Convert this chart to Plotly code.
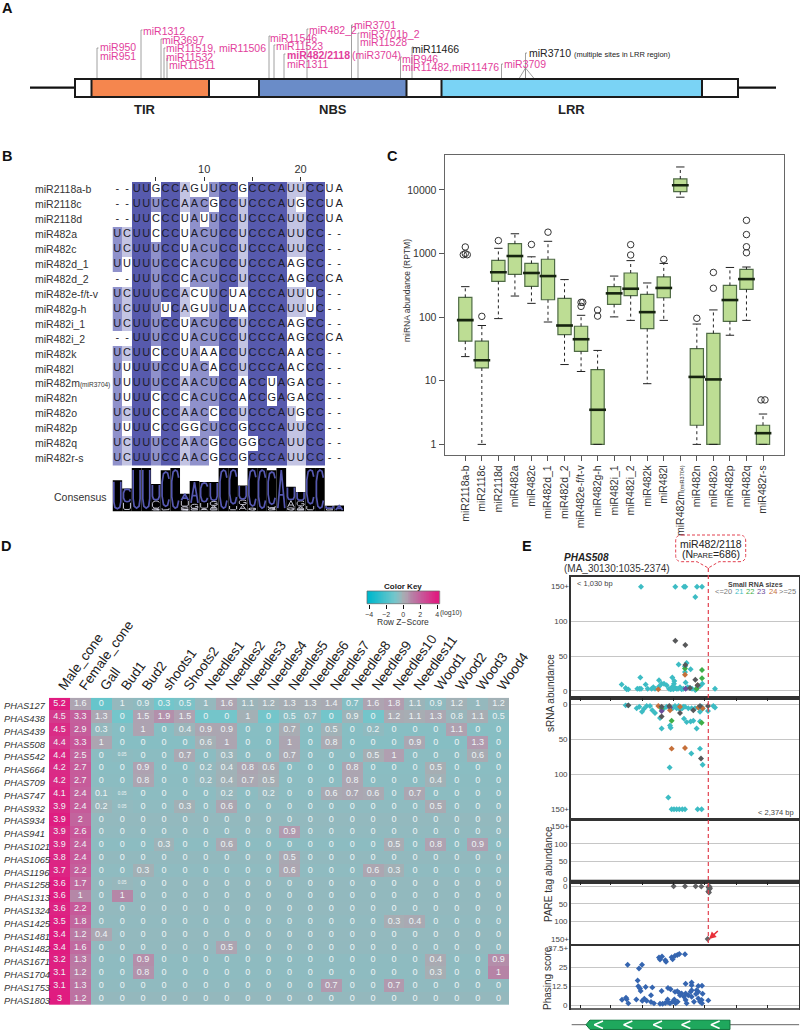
import numpy as np
import plotly.graph_objects as go

W, H = 800, 1030
PINK = "#e23f9c"
FONT = "Liberation Sans, Arial, sans-serif"

# ---------- Panel A data ----------
gene_span = (75, 738)
flank_left = (30, 75)
flank_right = (738, 776)
domain_names = ["TIR", "NBS", "LRR"]
domain_start = [91.5, 259, 441.5]
domain_end = [209, 406.5, 702]
domain_colors = ["#f5864e", "#6a8cc8", "#7ad3f5"]
site_x = [97, 141, 161, 164, 167, 269, 274, 284, 307, 351.5, 358, 400.5, 412, 501.5, 525.5]
site_top = [48, 30, 39, 48, 58, 36, 45, 54, 29, 25, 33, 57, 47, 64, 53]
site_pink_labels = [
    (99.5, 46.7, "miR950"), (99.5, 55.7, "miR951"), (143, 31, "miR1312"), (162, 39.5, "miR3697"),
    (166, 48, "miR11519, miR11506"), (166, 56.5, "miR11532"), (169, 65, "miR11511"),
    (269.5, 37.5, "miR11546"), (276, 46, "miR11523"), (286.5, 64, "miR1311"),
    (309, 30, "miR482_2"), (353.5, 25, "miR3701"), (360, 33.5, "miR3701b_2"),
    (360, 41.5, "miR11528"), (402, 58.7, "miR946"), (402, 67, "miR11482,miR11476"),
    (503.6, 63.7, "miR3709"), (352, 55, "(miR3704)"),
]

# ---------- Panel B data ----------
align_names = ["miR2118a-b", "miR2118c", "miR2118d", "miR482a", "miR482c", "miR482d_1", "miR482d_2",
               "miR482e-f/t-v", "miR482g-h", "miR482i_1", "miR482i_2", "miR482k", "miR482l",
               "miR482m<span style=\"font-size:6.5px\">(miR3704)</span>", "miR482n", "miR482o",
               "miR482p", "miR482q", "miR482r-s"]
align_seqs = ["--UUGCCAGUUCCGCCCAUUCCUA", "--UUUCCAACGCCUCCCAUGCCUA", "--UUCCCUAUUCCUCCCAUUCCUA",
              "UCUUCCCUACUCCUCCCAUUCC--", "UCUUUCCUACUCCUCCCAUUCC--", "UUUUUCCCACUCCUCCCAAGCC--",
              "--UUUCCCACUCCUCCCAAGCCCA", "UCUUUCCACUUCUACCCAUUUC--", "UCUUUUCAGUUCUACCCAUUUC--",
              "UCUUUCCUACUCCUCCCAAGCC--", "--UUUCCUACUCCUCCCAAGCCCA", "UCUUCCCUAAACCUCCCAAACC--",
              "UUUUUCCUACACCUCCCAACCC--", "UUUUUCCAACUCCACCUAGACC--", "UUUUCCCCACUCCACCGAGACC--",
              "UCUUCCCAACCCCUCCCAUGCC--", "UUUUCCCGGCUCCGCCCAUUCC--", "UCUUUCCAACGCCGGCCAUUCC--",
              "UCUUUCCAACGCCGCCCAUUCC--"]
consensus = "UCUUUCCAACUCCUCCCAUUCCUA"
logo_heights = [.72, .53, 1, 1, .63, .95, 1, .41, .7, .68, .68, 1, 1, .6, 1, 1, .95, 1, .57, .45, 1, 1, .13, .14]
tick_cols = [5, 10, 15, 20]
tick_text = ["", "10", "", "20"]

# ---------- Panel C data ----------
box_names = ["miR2118a-b", "miR2118c", "miR2118d", "miR482a", "miR482c", "miR482d_1", "miR482d_2",
             "miR482e-f/t-v", "miR482g-h", "miR482i_1", "miR482i_2", "miR482k", "miR482l",
             "miR482m<span style=\"font-size:5.5px\">(miR3704)</span>", "miR482n", "miR482o",
             "miR482p", "miR482q", "miR482r-s"]
box_q3 = [205, 42, 780, 1430, 700, 815, 198, 72, 15, 302, 495, 228, 430, 14900, 32, 55.5, 316, 565, 2]
box_med = [90, 21, 510, 915, 495, 443, 74, 45, 3.5, 237, 280, 120, 288, 11900, 11.5, 10.5, 186, 397, 1.5]
box_q1 = [42, 15.9, 365, 470, 305, 188, 53, 29, 1, 159, 218, 66, 202, 9400, 2, 1, 86, 273, 1]
box_hi = [302, 74, 1210, 2050, 890, 1560, 390, 107, 30, 443, 775, 345, 700, 23000, 78, 130, 605, 615, 3]
box_lo = [24, 1, 95, 215, 165, 84, 18, 14, 1, 101, 89, 9, 89, 7700, 1, 1, 52, 89, 1]
out_x = [-.12, 0, .12, 0, 1, 2, 4, 5, 7, 7, 7.1, 8, 8, 10, 10, 12, 14, 15, 15, 17, 17, 17, 17, 17.88, 18.12]
out_y = [960, 1270, 960, 1000, 103, 1600, 1390, 2170, 171, 148, 171, 130, 104, 1380, 950, 810, 96, 505, 285,
         3330, 1990, 1280, 1030, 5, 5]

# ---------- Panel D data ----------
tissues = ["Male_cone", "Female_cone", "Gall", "Bud1", "Bud2", "shoots1", "Shoots2", "Needles1", "Needles2",
           "Needles3", "Needles4", "Needles5", "Needles6", "Needles7", "Needles8", "Needles9", "Needles10",
           "Needles11", "Wood1", "Wood2", "Wood3", "Wood4"]
phas = ["PHAS127", "PHAS438", "PHAS439", "PHAS508", "PHAS542", "PHAS664", "PHAS709", "PHAS747", "PHAS932",
        "PHAS934", "PHAS941", "PHAS1021", "PHAS1065", "PHAS1196", "PHAS1258", "PHAS1313", "PHAS1324",
        "PHAS1425", "PHAS1481", "PHAS1482", "PHAS1671", "PHAS1704", "PHAS1753", "PHAS1803"]
heat = [
    [5.2, 1.6, 0, 1, .9, .3, .5, 1, 1.6, 1.1, 1.2, 1.3, 1.3, 1.4, .7, 1.6, 1.8, 1.1, .9, 1.2, 1, 1.2],
    [4.5, 3.3, 1.3, 0, 1.5, 1.9, 1.5, 0, 0, 1, 0, .5, .7, 0, .9, 0, 1.2, 1.1, 1.3, .8, 1.1, .5],
    [4.5, 2.9, .3, 0, 1, 0, .4, .9, .9, 0, 0, .7, 0, .5, 0, .2, 0, 0, 0, 1.1, 0, 0],
    [4.4, 3.3, 1, 0, 0, 0, 0, .6, 1, 0, 0, 1, 0, .8, 0, 0, 0, .9, 0, 0, 1.3, 0],
    [4.4, 2.5, 0, .05, 0, 0, .7, 0, .3, 0, 0, .7, 0, 0, 0, .5, 1, 0, 0, 0, .6, 0],
    [4.2, 2.7, 0, 0, .9, 0, 0, .2, .4, .8, .6, 0, 0, 0, .8, 0, 0, 0, .5, 0, 0, 0],
    [4.2, 2.7, 0, 0, .8, 0, 0, .2, .4, .7, .5, 0, 0, 0, .8, 0, 0, 0, .4, 0, 0, 0],
    [4.1, 2.4, .1, .05, 0, 0, 0, 0, .2, 0, .2, 0, 0, .6, .7, .6, 0, .7, 0, 0, 0, 0],
    [3.9, 2.4, .2, .05, 0, 0, .3, 0, .6, 0, 0, 0, 0, 0, 0, 0, 0, 0, .5, 0, 0, 0],
    [3.9, 2, 0, 0, 0, 0, 0, 0, 0, 0, 0, 0, 0, 0, 0, 0, 0, 0, 0, 0, 0, 0],
    [3.9, 2.6, 0, 0, 0, 0, 0, 0, 0, 0, 0, .9, 0, 0, 0, 0, 0, 0, 0, 0, 0, 0],
    [3.9, 2.4, 0, 0, 0, .3, 0, 0, .6, 0, 0, 0, 0, 0, 0, 0, .5, 0, .8, 0, .9, 0],
    [3.8, 2.4, 0, 0, 0, 0, 0, 0, 0, 0, 0, .5, 0, 0, 0, 0, 0, 0, 0, 0, 0, 0],
    [3.7, 2.2, 0, 0, .3, 0, 0, 0, 0, 0, 0, .6, 0, 0, 0, .6, .3, 0, 0, 0, 0, 0],
    [3.6, 1.7, 0, .05, 0, 0, 0, 0, 0, 0, 0, 0, 0, 0, 0, 0, 0, 0, 0, 0, 0, 0],
    [3.6, 1, 0, 1, 0, 0, 0, 0, 0, 0, 0, 0, 0, 0, 0, 0, 0, 0, 0, 0, 0, 0],
    [3.6, 2.2, 0, 0, 0, 0, 0, 0, 0, 0, 0, 0, 0, 0, 0, 0, 0, 0, 0, 0, 0, 0],
    [3.5, 1.8, 0, 0, 0, 0, 0, 0, 0, 0, 0, 0, 0, 0, 0, 0, .3, .4, 0, 0, 0, 0],
    [3.4, 1.2, .4, 0, 0, 0, 0, 0, 0, 0, 0, 0, 0, 0, 0, 0, 0, 0, 0, 0, 0, 0],
    [3.4, 1.6, 0, 0, 0, 0, 0, 0, .5, 0, 0, 0, 0, 0, 0, 0, 0, 0, 0, 0, 0, 0],
    [3.2, 1.3, 0, 0, .9, 0, 0, 0, 0, 0, 0, 0, 0, 0, 0, 0, 0, 0, .4, 0, 0, .9],
    [3.1, 1.2, 0, 0, .8, 0, 0, 0, 0, 0, 0, 0, 0, 0, 0, 0, 0, 0, .3, 0, 0, 1],
    [3.1, 1.3, 0, 0, 0, 0, 0, 0, 0, 0, 0, 0, 0, .7, 0, 0, .7, 0, 0, 0, 0, 0],
    [3, 1.2, 0, 0, 0, 0, 0, 0, 0, 0, 0, 0, 0, 0, 0, 0, 0, 0, 0, 0, 0, 0],
]
key_ticks = [-4, -2, 0, 2, 4]
key_labels = ["\u22124", "\u22122", "0", "2", "4"]
heat_scale = [[0, "#00b8cc"], [.375, "#72c6cb"], [.4625, "#93b9be"], [.5, "#a6aeb3"], [.5625, "#b09fb0"],
              [.625, "#b683a6"], [.75, "#c4609c"], [1, "#e01c80"]]

# ---------- Panel E data (position along the transcript window, y = abundance) ----------
e_ticks = [180, 273, 367, 461, 555, 650, 744]
cleavage_pos = 565
gene_left, gene_right = 198, 630
gene_arrows = [235, 323, 412, 497, 585]
up21 = [(363, 150), (466, 150), (492, 150), (496, 150), (531, 150), (546, 150), (526, 135), (476, 38), (500, 40),
        (495, 35), (512, 31), (361, 19), (457, 19), (463, 14), (305, 9), (317, 4), (320, 2), (325, 2), (352, 3),
        (358, 3), (363, 3), (377, 9), (383, 3), (395, 3), (400, 5), (405, 3), (417, 15), (417, 6), (425, 10),
        (432, 10), (440, 8), (447, 3), (455, 3), (458, 6), (462, 10), (466, 4), (470, 3), (474, 3), (480, 5),
        (490, 3), (497, 12), (503, 5), (510, 4), (516, 3), (526, 1), (530, 3), (534, 6), (540, 7), (547, 10),
        (585, 3), (495, 27), (452, 2), (460, 2), (485, 2)]
up22 = [(495, 32), (546, 30), (546, 18), (530, 3)]
up23 = [(497, 3)]
up24 = [(495, 23), (415, 2), (533, 8)]
up25 = [(466, 72), (496, 66), (496, 37), (526, 16), (533, 8), (510, 4)]
low21 = [(317, 1), (325, 1), (350, 5), (358, 3), (366, 10), (372, 6), (380, 2), (390, 2), (397, 8), (405, 12),
         (420, 19), (425, 34), (432, 5), (440, 3), (450, 30), (452, 33), (458, 5), (465, 2), (470, 5), (480, 7),
         (487, 5), (492, 20), (500, 25), (512, 24), (520, 23), (530, 34), (540, 24), (540, 10), (548, 6),
         (564, 9), (585, 4), (580, 2), (476, 2), (490, 3), (495, 3), (505, 5), (515, 5), (525, 5), (535, 4),
         (545, 3), (514, 70), (540, 63), (548, 86), (449, 90), (445, 133), (455, 150), (462, 150), (470, 150),
         (478, 150), (487, 150), (495, 150), (533, 150), (545, 150)]
low22 = [(455, 23), (545, 26), (425, 6)]
low23 = [(425, 9), (450, 4)]
low24 = [(415, 2), (450, 8), (455, 63), (495, 62), (548, 5), (535, 4), (480, 3)]
low25 = [(325, 1), (425, 3), (448, 2), (425, 17), (520, 8), (543, 77), (480, 12), (540, 2), (564, 2)]
pare_x = [461, 495, 527, 544, 567, 569, 566, 570, 568, 565, 567, 563]
pare_y = [0, 0, 0, 1, 0, 2, 4, 6, 9, 15, 18, 150]
phase_x = [323, 357, 366, 417, 420, 426, 436, 438, 455, 458, 465, 472, 478, 495, 353, 355, 360, 362, 377, 397, 425,
           444, 452, 465, 472, 478, 497, 515, 515, 535, 546, 306, 318, 320, 325, 349, 367, 373, 380, 393, 393,
           402, 420, 428, 436, 443, 444, 450, 458, 463, 467, 473, 480, 485, 492, 497, 497, 500, 505, 512, 515,
           515, 522, 530, 535, 535, 540, 545, 548, 546, 565, 528]
phase_y = [27, 24.5, 27, 31.8, 30.5, 32.5, 30, 29, 32, 30.7, 33, 33.5, 34.2, 34, 16.4, 12.5, 11, 9.4, 12, 11.8, 9.4,
           11.4, 10.5, 8.8, 9.2, 8.1, 14.3, 15, 13.2, 12.7, 12.9, 3.5, 4.8, 3.9, 1.1, 3.7, 2.9, 4.2, 2.9, 6.6, 2,
           1.1, .9, .9, 1.3, 3.7, 1.8, 1.1, 2.2, 3.7, 1.1, 2.2, 6.6, 7.7, 5.5, 7.7, 3.3, 1.1, 6.6, 8.8, 9.9,
           5.5, 2.2, 9.9, 8.8, 4.4, 2.2, 3.3, 7.5, 1.1, 3.1, 7.3]
size_colors = {"21": "#3dbcc4", "22": "#3fae49", "23": "#6a4c9c", "24": "#c6703a", "25": "#57585a"}

# ---------- helpers ----------
fig = go.Figure()
layout = dict(width=W, height=H, margin=dict(l=0, r=0, t=0, b=0, pad=0), paper_bgcolor="white", plot_bgcolor="rgba(0,0,0,0)",
              showlegend=False, font=dict(family=FONT, color="#222"), template="none")
annos, shapes = [], []


def axes(n, l, r, t, b, xr, yr, xcfg=None, ycfg=None):
    xa = dict(domain=[l / W, r / W], range=xr, anchor=f"y{n}", visible=False, fixedrange=True, automargin=False)
    ya = dict(domain=[1 - b / H, 1 - t / H], range=yr, anchor=f"x{n}", visible=False, fixedrange=True, automargin=False)
    xa.update(xcfg or {})
    ya.update(ycfg or {})
    layout[f"xaxis{n}"] = xa
    layout[f"yaxis{n}"] = ya
    return dict(xaxis=f"x{n}", yaxis=f"y{n}")


def lab(x, y, text, size=10, color="#222", anchor="left", angle=0, xref="x1", yref="y1", vanchor="middle"):
    annos.append(dict(x=x, y=y, xref=xref, yref=yref, text=text, showarrow=False, xanchor=anchor, yanchor=vanchor,
                      textangle=angle, font=dict(size=size, color=color, family=FONT), borderpad=0, borderwidth=0))


def rect(x0, y0, x1, y1, fill, lw=2):
    shapes.append(dict(type="rect", xref="x1", yref="y1", x0=x0, x1=x1, y0=y0, y1=y1, fillcolor=fill,
                       line=dict(color="#1a1a1a", width=lw), layer="above"))


# canvas
canvas = axes(1, 0, W, 0, H, [0, W], [H, 0])
fig.add_trace(go.Scatter(x=[0], y=[0], mode="markers", marker=dict(opacity=0, size=1), hoverinfo="skip", **canvas))

for letter, x, y in [("A", 2, 8), ("B", 2, 156), ("C", 387, 156), ("D", 1, 546), ("E", 522, 546)]:
    lab(x, y, f"<b>{letter}</b>", 14.5, "#111")

# ---------- Panel A ----------
for (a, b) in (flank_left, flank_right):
    fig.add_trace(go.Scatter(x=[a, b], y=[87.7, 87.7], mode="lines", line=dict(color="#111", width=2.2),
                             hoverinfo="skip", **canvas))
rect(gene_span[0], 79, gene_span[1], 97, "white")
for s, e, c, name in zip(domain_start, domain_end, domain_colors, domain_names):
    rect(s, 79, e, 97, c)
    lab((s + e) / 2 - (5 if name == "TIR" else 0), 109, f"<b>{name}</b>", 13, "#222", "center")
sx, sy = [], []
for x, t in zip(site_x, site_top):
    sx += [x, x, x + 1.5, None]
    sy += [79, t, t, None]
sx += [525.5, 519.4, None, 525.5, 533.7, None, 525.5, 525.5, None]
sy += [68, 78, None, 68, 78, None, 68, 78, None]
fig.add_trace(go.Scatter(x=sx, y=sy, mode="lines", line=dict(color="#888", width=.8), hoverinfo="skip", **canvas))
for x, y, t in site_pink_labels:
    lab(x, y, t, 10.5, PINK)
lab(286.5, 55, "<b>miR482/2118</b>", 10.5, PINK)
lab(412, 48.7, "miR11466", 10.5, "#222")
lab(529, 53, "miR3710 <span style=\"font-size:7.5px\">(multiple sites in LRR region)</span>", 10.5, "#222")

# ---------- Panel B ----------
nrow, ncol = len(align_seqs), len(align_seqs[0])
cols_list = [[s[c] for s in align_seqs] for c in range(ncol)]
zb = []
for s in align_seqs:
    row = []
    for c, ch in enumerate(s):
        f = cols_list[c].count(ch) / nrow
        row.append(0 if ch == "-" else (3 if f > .8 else 2 if f > .6 else 1 if f > .4 else 0))
    zb.append(row)
col_idx = list(range(1, ncol + 1))
b_ax = axes(2, 112.5, 344, 182, 465.5, [.5, 24.5], [18.5, -.5],
            dict(visible=True, side="top", tickvals=tick_cols, ticktext=tick_text, ticks="outside", ticklen=4,
                 tickcolor="#333", showgrid=False, showline=False, zeroline=False, tickfont=dict(size=11, color="#333")))
fig.add_trace(go.Heatmap(x=col_idx, y=list(range(nrow)), z=zb, zmin=0, zmax=3, showscale=False, hoverinfo="skip",
                         colorscale=[[0, "#ffffff"], [.17, "#ffffff"], [.17, "#c3c4e3"], [.5, "#c3c4e3"],
                                     [.5, "#8f91cb"], [.83, "#8f91cb"], [.83, "#575aad"], [1, "#575aad"]], **b_ax))
tx, ty, tt = [], [], []
for r, s in enumerate(align_seqs):
    for c, ch in enumerate(s):
        tx.append(c + 1)
        ty.append(r)
        tt.append(ch)
fig.add_trace(go.Scatter(x=tx, y=ty, text=tt, mode="text", textfont=dict(size=11, color="#1c1c2a"), hoverinfo="skip", **b_ax))
for r, name in enumerate(align_names):
    lab(35, r, name, 10.5, "#333", xref="x1", yref="y2")
lab(107, 497, "Consensus", 10.5, "#333", "right")

glyphs = {
    "U": [(0, 1), (0, .25), (.15, .05), (.5, 0), (.85, .05), (1, .25), (1, 1)],
    "C": [(1, .8), (.8, .97), (.5, 1), (.2, .95), (0, .7), (0, .3), (.2, .05), (.5, 0), (.8, .03), (1, .2)],
    "A": [(0, 0), (.5, 1), (1, 0), (None, None), (.2, .35), (.8, .35)],
    "G": [(1, .8), (.8, .97), (.5, 1), (.2, .95), (0, .7), (0, .3), (.2, .05), (.5, 0), (.8, .03), (1, .2), (1, .45), (.6, .45)],
}
l_ax = axes(3, 112.5, 344, 468, 511.5, [.5, 24.5], [0, 1])
fig.add_trace(go.Bar(x=col_idx, y=logo_heights, width=1, marker=dict(color="black", line=dict(width=0)), hoverinfo="skip", **l_ax))
top_x, top_y, sub_x, sub_y = [], [], [], []
for c in range(ncol):
    counts = sorted([(cols_list[c].count(ch), ch) for ch in "ACGU" if cols_list[c].count(ch)])
    tot = sum(n for n, _ in counts)
    base = .03
    span = logo_heights[c] - .03
    for i, (n, ch) in enumerate(counts):
        h = span * n / tot
        tx_, ty_ = (top_x, top_y) if i == len(counts) - 1 else (sub_x, sub_y)
        for gx, gy in glyphs[ch]:
            tx_.append(None if gx is None else c + 1 - .36 + .72 * gx)
            ty_.append(None if gy is None else base + h * (.05 + .9 * gy))
        tx_.append(None)
        ty_.append(None)
        base += h
fig.add_trace(go.Scatter(x=sub_x, y=sub_y, mode="lines", line=dict(color="#d8d8e8", width=.9), hoverinfo="skip", **l_ax))
fig.add_trace(go.Scatter(x=top_x, y=top_y, mode="lines", line=dict(color="#5558b0", width=1.7), hoverinfo="skip", **l_ax))
fig.add_trace(go.Scatter(x=col_idx, y=[-.15] * ncol, text=list(consensus), mode="text", cliponaxis=False,
                         textfont=dict(size=11, color="#333"), hoverinfo="skip", **l_ax))

# ---------- Panel C ----------
idx = list(range(len(box_names)))
c_ax = axes(4, 444.7, 784, 155, 455, [-1.245, 19.27], [-.167, 4.55],
            dict(visible=True, tickvals=idx, ticktext=box_names, tickangle=-90, ticks="outside", ticklen=5, tickcolor="#555",
                 showline=True, linecolor="#666", linewidth=1.3, mirror=True, showgrid=False, zeroline=False,
                 tickfont=dict(size=10.5, color="#333")),
            dict(visible=True, type="log", tickvals=[1, 10, 100, 1000, 10000], ticktext=["1", "10", "100", "1000", "10000"],
                 ticks="outside", ticklen=5, tickcolor="#555", showline=True, linecolor="#666", linewidth=1.3, mirror=True,
                 showgrid=False, zeroline=False, tickfont=dict(size=10.5, color="#333")))
wx, wy = [], []
for i, q1, q3, lo, hi in zip(idx, box_q1, box_q3, box_lo, box_hi):
    wx += [i, i, None, i, i, None]
    wy += [q3, hi, None, q1, lo, None]
fig.add_trace(go.Scatter(x=wx, y=wy, mode="lines", line=dict(color="#222", width=1, dash="3px,3px"), hoverinfo="skip", **c_ax))
fig.add_trace(go.Scatter(x=idx + idx, y=box_hi + box_lo, mode="markers", hoverinfo="skip",
                         marker=dict(symbol="line-ew", size=6, line=dict(color="#222", width=1)), **c_ax))
fig.add_trace(go.Box(x=idx, q1=box_q1, median=box_med, q3=box_q3, lowerfence=box_q1, upperfence=box_q3, width=.8,
                     boxpoints=False, fillcolor="#bddd94", line=dict(color="#4f6b45", width=1.2), hoverinfo="skip", **c_ax))
fig.add_trace(go.Scatter(x=idx, y=box_med, mode="markers", hoverinfo="skip",
                         marker=dict(symbol="line-ew", size=12, line=dict(color="#16240f", width=2.6)), **c_ax))
fig.add_trace(go.Scatter(x=out_x, y=out_y, mode="markers", hoverinfo="skip",
                         marker=dict(symbol="circle-open", size=6.5, color="#333", line=dict(width=1)), **c_ax))
lab(407, 291, "miRNA abundance (RPTM)", 8.5, "#333", "center", -90)

# ---------- Panel D ----------
zarr = np.array(heat, dtype=float)
zscore = (zarr - zarr.mean(axis=1, keepdims=True)) / zarr.std(axis=1, ddof=1, keepdims=True)
d_ax = axes(5, 49, 509, 697.7, 1005, [-.5, 21.5], [23.5, -.5],
            dict(visible=True, side="top", tickvals=list(range(22)), ticktext=tissues, tickangle=-54, ticks="", ticklen=0,
                 showgrid=False, showline=False, zeroline=False, tickfont=dict(size=13.5, color="#222")))
fig.add_trace(go.Heatmap(x=list(range(22)), y=list(range(24)), z=zscore.tolist(), zmin=-4, zmax=4, colorscale=heat_scale,
                         showscale=False, hoverinfo="skip", **d_ax))
hx, hy, ht, hs = [], [], [], []
for r, row in enumerate(heat):
    for c, v in enumerate(row):
        hx.append(c)
        hy.append(r)
        ht.append(f"{v:g}")
        hs.append(4.5 if v == .05 else 9)
fig.add_trace(go.Scatter(x=hx, y=hy, text=ht, mode="text", textfont=dict(size=hs, color="#edf3f5"), hoverinfo="skip", **d_ax))
for r, name in enumerate(phas):
    annos.append(dict(x=2.5, y=r, xref="x1", yref="y5", text=f"<i>{name}</i>", showarrow=False, xanchor="left", yanchor="middle",
                      yshift=-2, font=dict(size=9.3, color="#333", family=FONT), borderpad=0))
key_z = np.linspace(-4.24, 4.3, 100).tolist()
k_ax = axes(6, 367, 439.7, 591, 603.7, [-4.24, 4.3], [-.5, .5],
            dict(visible=True, tickvals=key_ticks, ticktext=key_labels, ticks="outside", ticklen=4, tickcolor="#111", tickwidth=1.2,
                 showgrid=False, showline=False, zeroline=False, tickfont=dict(size=7, color="#333")))
fig.add_trace(go.Heatmap(x=key_z, y=[0], z=[key_z], zmin=-4, zmax=4, colorscale=heat_scale, showscale=False, hoverinfo="skip", **k_ax))
shapes.append(dict(type="rect", xref="x1", yref="y1", x0=367, x1=439.7, y0=591, y1=603.7, line=dict(color="#666", width=.7), layer="above"))
lab(403, 586, "<b>Color Key</b>", 8, "#222", "center")
lab(403, 622, "Row Z\u2212Score", 8.5, "#333", "center")
lab(440, 612.5, "(log10)", 7, "#333")

# ---------- Panel E ----------
grid = "#c6c6c6"
frame = "#333"


def e_axes(n, t, b, yr, tickvals, ticktext, xticks=None):
    xcfg = dict(visible=True, showline=True, linecolor=frame, linewidth=1.7, mirror=True, showgrid=False, zeroline=False,
                showticklabels=False, ticks="", tickvals=[])
    if xticks == "top":
        xcfg.update(side="top", tickvals=e_ticks, ticks="inside", ticklen=3, tickcolor="#222", tickwidth=1)
    if xticks == "bottom":
        xcfg.update(tickvals=e_ticks, ticks="inside", ticklen=3, tickcolor="#222", tickwidth=1)
    ycfg = dict(visible=True, tickvals=tickvals, ticktext=ticktext, showgrid=True, gridcolor=grid, gridwidth=1.2, zeroline=False,
                showline=True, linecolor=frame, linewidth=1.7, mirror=True, ticks="", tickfont=dict(size=8, color="#444"))
    return axes(n, 571, 799.3, t, b, [153, 838], yr, xcfg, ycfg)


eu = e_axes(7, 577.3, 697.7, [-10, 163.5], [0, 50, 100], ["0", "50", "100"])
el = e_axes(8, 697.7, 817.7, [162, -10], [0, 50, 100], ["0", "50", "100"], "top")
pu = e_axes(9, 820.7, 882.3, [-9, 165], [0, 50, 100], ["0", "50", "100"])
pl = e_axes(10, 882.3, 943.7, [163, -11], [0, 50, 100], ["0", "50", "100"], "top")
ph = e_axes(11, 946, 1008.3, [-2.2, 39.5], [0, 12.5, 25], ["0", "12.5", "25"], "bottom")
for yref, y, txt in [("y7", 150, "150+"), ("y8", 150, "150+"), ("y9", 150, "150+"), ("y10", 150, "150+"), ("y11", 37.5, "37.5+")]:
    lab(569, y, txt, 8, "#444", "right", xref="x1", yref=yref)
# upper PARE panel holds no tags; an empty trace keeps its subplot drawn
fig.add_trace(go.Scatter(x=[], y=[], mode="markers", hoverinfo="skip", **pu))
shapes.append(dict(type="rect", xref="x1", yref="y1", x0=571, x1=799.3, y0=1008, y1=1010, fillcolor="#666",
                   line=dict(width=0), layer="above"))


def pts(ax, data, color):
    fig.add_trace(go.Scatter(x=[p[0] for p in data], y=[p[1] for p in data], mode="markers", hoverinfo="skip",
                             marker=dict(symbol="diamond", size=4.6, color=color), **ax))


for data, key in [(up21, "21"), (up22, "22"), (up23, "23"), (up24, "24"), (up25, "25")]:
    pts(eu, data, size_colors[key])
for data, key in [(low21, "21"), (low22, "22"), (low23, "23"), (low24, "24"), (low25, "25")]:
    pts(el, data, size_colors[key])
fig.add_trace(go.Scatter(x=pare_x, y=pare_y, mode="markers", hoverinfo="skip",
                         marker=dict(symbol="diamond", size=4.6, color="#626264"), **pl))
fig.add_trace(go.Scatter(x=phase_x, y=phase_y, mode="markers", hoverinfo="skip",
                         marker=dict(symbol="diamond", size=4.6, color="#3565b0"), **ph))
shapes.append(dict(type="line", xref="x7", yref="y1", x0=cleavage_pos, x1=cleavage_pos, y0=568, y1=943.7,
                   line=dict(color="#e2404f", width=1.2, dash="4px,3px"), layer="above"))
annos.append(dict(x=567, y=150, xref="x10", yref="y10", ax=598, ay=123, axref="x10", ayref="y10", text="", showarrow=True,
                  arrowhead=2, arrowsize=.9, arrowwidth=1.6, arrowcolor="#e8303a"))

g_ax = axes(12, 571, 799.3, 1019.4, 1030, [153, 838], [-1, 1])
fig.add_trace(go.Scatter(x=[155, 838], y=[0, 0], mode="lines", line=dict(color="#666", width=1), hoverinfo="skip", **g_ax))
fig.add_trace(go.Scatter(x=[gene_left, gene_left + 12, gene_right, gene_right, gene_left + 12, gene_left],
                         y=[0, .9, .9, -.9, -.9, 0], mode="lines", fill="toself", fillcolor="#1fa85d",
                         line=dict(color="#14743f", width=1), hoverinfo="skip", **g_ax))
cx, cy = [], []
for a in gene_arrows:
    cx += [a + 14, a - 12, a + 14, None]
    cy += [.7, 0, -.7, None]
fig.add_trace(go.Scatter(x=cx, y=cy, mode="lines", line=dict(color="white", width=1.6), hoverinfo="skip", **g_ax))

lab(564, 557.7, "<b><i>PHAS508</i></b>", 10, "#222")
lab(564, 568.3, "(MA_30130:1035-2374)", 10, "#333")
lab(711, 543.7, "miR482/2118", 10.5, "#222", "center")
lab(711, 554.3, "(N<span style=\"font-size:7.5px\">PARE</span>=686)", 10.5, "#222", "center")
shapes.append(dict(type="path", xref="x1", yref="y1", layer="above", line=dict(color="#e2404f", width=1, dash="3px,2px"),
                   path="M 682 535 L 739 535 Q 745.7 535 745.7 541 L 745.7 555.5 Q 745.7 561.7 739 561.7 L 719 561.7 "
                        "L 708.3 568 L 697 561.7 L 682 561.7 Q 675.7 561.7 675.7 555.5 L 675.7 541 Q 675.7 535 682 535 Z"))
lab(755.7, 584, "<b>Small RNA sizes</b>", 7, "#444", "center")
for x, t, c in [(715, "&lt;=20", "#777"), (735, "21", size_colors["21"]), (746, "22", size_colors["22"]),
                (757, "23", size_colors["23"]), (769, "24", size_colors["24"]), (779, "&gt;=25", "#777")]:
    lab(x, 591, t, 7.5, c)
lab(577, 583, "&lt; 1,030 bp", 7.5, "#444")
lab(794, 812, "&lt; 2,374 bp", 7.5, "#444", "right")
lab(550, 693, "sRNA abundance", 10, "#333", "center", -90)
lab(548, 874, "PARE tag abundance", 10, "#333", "center", -90)
lab(547, 978, "Phasing score", 10, "#333", "center", -90)

layout["annotations"] = annos
layout["shapes"] = shapes
layout["barmode"] = "overlay"
fig.update_layout(**layout)
fig.write_html("out.html", post_script="document.body.style.margin='0';", config={"displayModeBar": False})
